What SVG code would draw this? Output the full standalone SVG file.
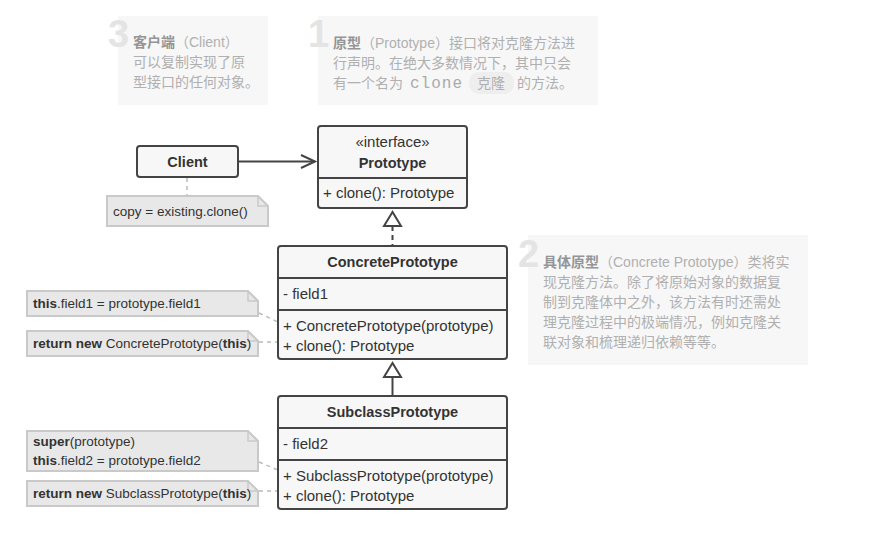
<svg xmlns="http://www.w3.org/2000/svg" width="882" height="546" viewBox="0 0 882 546">
<style>
.hint{fill:#f7f7f7}
.num{font-family:"Liberation Sans",sans-serif;font-weight:bold;font-size:38px;fill:#e4e4e4}
.ht{font-family:"Liberation Sans","Noto Sans CJK SC",sans-serif;font-size:14px;fill:#b0b0b0}
.hb{font-weight:bold;fill:#959595}
.box{fill:#f7f7f7;stroke:#444;stroke-width:2}
.div{stroke:#444;stroke-width:2}
.t{font-family:"Liberation Sans",sans-serif;font-size:15px;fill:#333}
.tb{font-weight:bold;font-size:14.5px;text-anchor:middle}
.note{fill:#e8e8e8;stroke:#c9c9c9;stroke-width:2}
.nt{font-family:"Liberation Sans",sans-serif;font-size:13.5px;fill:#333}
.dash{stroke:#bbb;stroke-width:1.5;stroke-dasharray:4 4;fill:none}
.line{stroke:#444;stroke-width:2;fill:none}
</style>

<g id="hint3">
<rect class="hint" x="118" y="16" width="150" height="89"/>
<text class="num" x="108" y="47">3</text>
<text class="ht" x="133" y="47"><tspan class="hb">客户端</tspan>（Client）</text>
<text class="ht" x="133" y="67">可以复制实现了原</text>
<text class="ht" x="133" y="87">型接口的任何对象。</text>
</g>

<g id="hint1">
<rect class="hint" x="318" y="16" width="280" height="89"/>
<text class="num" x="308" y="47">1</text>
<text class="ht" x="333" y="48"><tspan class="hb">原型</tspan>（Prototype）接口将对克隆方法进</text>
<text class="ht" x="333" y="68">行声明。在绝大多数情况下，其中只会</text>
<text class="ht" x="333" y="88">有一个名为</text>
<text x="410" y="88" style="font-family:'Liberation Mono',monospace;font-size:16px;fill:#aaa;letter-spacing:1px">clone</text>
<rect x="469" y="72" width="45" height="22" rx="10" fill="#eeeeee"/>
<text class="ht" x="477" y="88">克隆</text>
<text class="ht" x="517" y="88">的方法。</text>
</g>

<g id="hint2">
<rect class="hint" x="528" y="235" width="280" height="130"/>
<text class="num" x="518" y="267">2</text>
<text class="ht" x="543" y="267"><tspan class="hb">具体原型</tspan>（Concrete Prototype）类将实</text>
<text class="ht" x="543" y="287">现克隆方法。除了将原始对象的数据复</text>
<text class="ht" x="543" y="307">制到克隆体中之外，该方法有时还需处</text>
<text class="ht" x="543" y="327">理克隆过程中的极端情况，例如克隆关</text>
<text class="ht" x="543" y="347">联对象和梳理递归依赖等等。</text>
</g>

<g id="connectors">
<line class="line" x1="238" y1="161.5" x2="315" y2="161.5"/>
<polyline class="line" points="301,155 315,161.5 301,168"/>
<line class="dash" x1="187" y1="178" x2="187" y2="196"/>
<line class="line" x1="392.5" y1="226" x2="392.5" y2="246" stroke-dasharray="5 4"/>
<polygon points="392.5,212 384,226 401,226" fill="#fff" stroke="#444" stroke-width="2"/>
<line class="line" x1="392.5" y1="377" x2="392.5" y2="396"/>
<polygon points="392.5,363 384,377 401,377" fill="#fff" stroke="#444" stroke-width="2"/>
<line class="dash" x1="259" y1="313" x2="278" y2="322"/>
<line class="dash" x1="259" y1="342" x2="278" y2="342"/>
<line class="dash" x1="259" y1="462" x2="278" y2="470"/>
<line class="dash" x1="259" y1="491" x2="278" y2="491"/>
</g>

<g id="client">
<rect class="box" x="137" y="146" width="101" height="31" rx="3"/>
<text class="t tb" x="187.5" y="167">Client</text>
</g>

<g id="note-client">
<path class="note" d="M107,196 H258 L268,206 V226 H107 Z"/>
<path d="M258,196 V206 H268" fill="none" stroke="#c9c9c9" stroke-width="1.5"/>
<text class="nt" x="113" y="216">copy = existing.clone()</text>
</g>

<g id="prototype">
<rect class="box" x="318" y="126" width="149" height="82" rx="3"/>
<line class="div" x1="318" y1="178" x2="467" y2="178"/>
<text class="t" x="392.5" y="147" text-anchor="middle">«interface»</text>
<text class="t tb" x="392.5" y="168">Prototype</text>
<text class="t" x="323" y="198">+ clone(): Prototype</text>
</g>

<g id="concrete">
<rect class="box" x="278" y="246" width="229" height="113" rx="3"/>
<line class="div" x1="278" y1="278" x2="507" y2="278"/>
<line class="div" x1="278" y1="310" x2="507" y2="310"/>
<text class="t tb" x="392.5" y="267">ConcretePrototype</text>
<text class="t" x="283" y="299">- field1</text>
<text class="t" x="283" y="331">+ ConcretePrototype(prototype)</text>
<text class="t" x="283" y="351">+ clone(): Prototype</text>
</g>

<g id="note-c1">
<path class="note" d="M27,291 H248 L258,301 V316 H27 Z"/>
<path d="M248,291 V301 H258" fill="none" stroke="#c9c9c9" stroke-width="1.5"/>
<text class="nt" x="33" y="308"><tspan font-weight="bold">this</tspan>.field1 = prototype.field1</text>
</g>

<g id="note-c2">
<path class="note" d="M27,331 H248 L258,341 V356 H27 Z"/>
<path d="M248,331 V341 H258" fill="none" stroke="#c9c9c9" stroke-width="1.5"/>
<text class="nt" x="33" y="348"><tspan font-weight="bold">return new</tspan> ConcretePrototype(<tspan font-weight="bold">this</tspan>)</text>
</g>

<g id="subclass">
<rect class="box" x="278" y="396" width="229" height="113" rx="3"/>
<line class="div" x1="278" y1="428" x2="507" y2="428"/>
<line class="div" x1="278" y1="460" x2="507" y2="460"/>
<text class="t tb" x="392.5" y="417">SubclassPrototype</text>
<text class="t" x="283" y="449">- field2</text>
<text class="t" x="283" y="481">+ SubclassPrototype(prototype)</text>
<text class="t" x="283" y="501">+ clone(): Prototype</text>
</g>

<g id="note-s1">
<path class="note" d="M27,431 H248 L258,441 V471 H27 Z"/>
<path d="M248,431 V441 H258" fill="none" stroke="#c9c9c9" stroke-width="1.5"/>
<text class="nt" x="33" y="446"><tspan font-weight="bold">super</tspan>(prototype)</text>
<text class="nt" x="33" y="465"><tspan font-weight="bold">this</tspan>.field2 = prototype.field2</text>
</g>

<g id="note-s2">
<path class="note" d="M27,481 H248 L258,491 V506 H27 Z"/>
<path d="M248,481 V491 H258" fill="none" stroke="#c9c9c9" stroke-width="1.5"/>
<text class="nt" x="33" y="498"><tspan font-weight="bold">return new</tspan> SubclassPrototype(<tspan font-weight="bold">this</tspan>)</text>
</g>
</svg>
